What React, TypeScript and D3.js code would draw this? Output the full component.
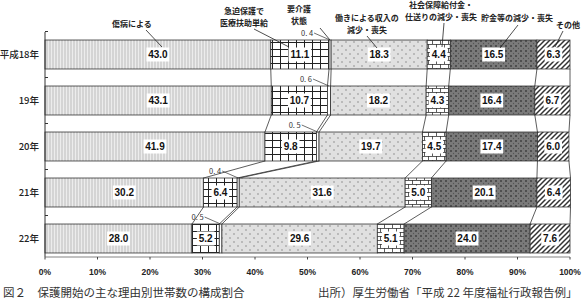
import React from "react";
import * as d3 from "d3";

const years = ["平成18年", "19年", "20年", "21年", "22年"];
const reasonKeys = ["shobyo", "kyuhaku", "kaigo", "hataraki", "shakai", "chokin", "sonota"];
const reasonLabels = [
  ["傷病による"],
  ["急迫保護で", "医療扶助単給"],
  ["要介護", "状態"],
  ["働きによる収入の", "減少・喪失"],
  ["社会保障給付金・", "仕送りの減少・喪失"],
  ["貯金等の減少・喪失"],
  ["その他"],
];
const shobyo = [43.0, 43.1, 41.9, 30.2, 28.0];
const kyuhaku = [11.1, 10.7, 9.8, 6.4, 5.2];
const kaigo = [0.4, 0.6, 0.5, 0.4, 0.5];
const hataraki = [18.3, 18.2, 19.7, 31.6, 29.6];
const shakai = [4.4, 4.3, 4.5, 5.0, 5.1];
const chokin = [16.5, 16.4, 17.4, 20.1, 24.0];
const sonota = [6.3, 6.7, 6.0, 6.4, 7.6];
const tickValues = [0, 10, 20, 30, 40, 50, 60, 70, 80, 90, 100];
const tickLabels = ["0%", "10%", "20%", "30%", "40%", "50%", "60%", "70%", "80%", "90%", "100%"];
const captionTitle = "図２　保護開始の主な理由別世帯数の構成割合";
const captionSource = "出所）厚生労働省「平成 22 年度福祉行政報告例」";

const W = 583;
const H = 299;

const series: Record<string, number[]> = { shobyo, kyuhaku, kaigo, hataraki, shakai, chokin, sonota };
const rows = years.map((y, i) => {
  const r: any = { year: y };
  reasonKeys.forEach((k) => (r[k] = series[k][i]));
  return r;
});
const stacked = d3.stack().keys(reasonKeys)(rows);

const x = d3.scaleLinear().domain([0, 100]).range([45, 570]);
const y = d3.scaleBand().domain(years).range([31.5, 261.5]).paddingInner(0.37).paddingOuter(0.185);
const axisY = 257;

const fills = ["url(#pShobyo)", "url(#pKyuhaku)", "#ffffff", "url(#pHataraki)", "url(#pShakai)", "url(#pChokin)", "url(#pSonota)"];

// top annotation layout (text center x, first line baseline y, leader from, leader to)
const annot = [
  { cx: 132, y0: 27, lf: [146, 30], lt: [162, 47] },
  { cx: 244, y0: 14, lf: [254, 29], lt: [289, 47] },
  { cx: 299, y0: 12, lf: [320, 28], lt: [330, 40] },
  { cx: 367, y0: 21, lf: [367, 36], lt: [377, 48] },
  { cx: 441, y0: 8, lf: [444, 23], lt: [442, 47] },
  { cx: 517, y0: 21, lf: [518, 25], lt: [500, 48] },
  { cx: 568, y0: 28, lf: [563, 31], lt: [555, 47] },
];

export default function App() {
  const bw = y.bandwidth();
  const connectors: JSX.Element[] = [];
  for (let i = 0; i < years.length - 1; i++) {
    const b0 = (y(years[i]) as number) + bw;
    const t1 = y(years[i + 1]) as number;
    stacked.forEach((s, k) => {
      connectors.push(
        <line key={`c${i}-${k}`} x1={x(s[i][1])} y1={b0} x2={x(s[i + 1][1])} y2={t1} stroke="#333" strokeWidth={0.8} />
      );
    });
  }
  return (
    <svg width={W} height={H} style={{ position: "absolute", left: 0, top: 0, background: "#fff" }}>
      <defs>
        <pattern id="pShobyo" width={3} height={10} patternUnits="userSpaceOnUse">
          <rect width={3} height={10} fill="#d4d4d4" />
          <line x1={0.5} y1={0} x2={0.5} y2={10} stroke="#ececec" strokeWidth={1} />
        </pattern>
        <pattern id="pKyuhaku" width={8} height={7} patternUnits="userSpaceOnUse">
          <rect width={8} height={7} fill="#fff" />
          <path d="M0 0.5 H8 M0.5 0 V7" stroke="#222" strokeWidth={1} />
        </pattern>
        <pattern id="pHataraki" width={8} height={8} patternUnits="userSpaceOnUse">
          <rect width={8} height={8} fill="#e0e0e0" />
          <circle cx={2} cy={2} r={0.7} fill="#777" />
          <circle cx={6} cy={6} r={0.7} fill="#777" />
        </pattern>
        <pattern id="pShakai" width={8} height={8} patternUnits="userSpaceOnUse">
          <rect width={8} height={8} fill="#fff" />
          <path d="M0 0.5 H8 M0 4.5 H8 M0.5 0 V4 M4.5 4 V8" stroke="#333" strokeWidth={0.8} />
        </pattern>
        <pattern id="pChokin" width={5} height={5} patternUnits="userSpaceOnUse">
          <rect width={5} height={5} fill="#7a7a7a" />
          <circle cx={1} cy={1} r={0.9} fill="#3a3a3a" />
          <circle cx={3.5} cy={3.5} r={0.7} fill="#555" />
        </pattern>
        <pattern id="pSonota" width={5} height={5} patternUnits="userSpaceOnUse">
          <rect width={5} height={5} fill="#fff" />
          <path d="M-1 1 L1 -1 M0 5 L5 0 M4 6 L6 4" stroke="#333" strokeWidth={1.5} />
        </pattern>
      </defs>

      {/* bars */}
      {stacked.map((s, k) =>
        s.map((d, i) => (
          <rect
            key={`b${k}-${i}`}
            x={x(d[0])}
            y={y(years[i])}
            width={x(d[1]) - x(d[0])}
            height={bw}
            fill={fills[k]}
            stroke="#333"
            strokeWidth={0.8}
          />
        ))
      )}

      {connectors}

      {/* value labels */}
      {stacked.map((s, k) =>
        k === 2
          ? null
          : s.map((d, i) => {
              const v = series[reasonKeys[k]][i];
              const t = v.toFixed(1);
              const cx = (x(d[0]) + x(d[1])) / 2;
              const cy = (y(years[i]) as number) + bw / 2;
              const tw = t.length * 5.2 + 2;
              return (
                <g key={`l${k}-${i}`}>
                  <rect x={cx - tw / 2} y={cy - 7} width={tw} height={14} fill="#fff" />
                  <text x={cx} y={cy + 3.6} textAnchor="middle" fontFamily="Liberation Sans, Arial, sans-serif" fontWeight="bold" fontSize={10} fill="#111">
                    {t}
                  </text>
                </g>
              );
            })
      )}

      {/* small segment labels */}
      {stacked[2].map((d, i) => {
        const ax = (x(d[0]) + x(d[1])) / 2;
        const ay = y(years[i]) as number;
        const lx = ax - 16;
        const ly = ay - 7;
        return (
          <g key={`s${i}`}>
            <line x1={lx} y1={ly} x2={ax} y2={ay} stroke="#333" strokeWidth={0.7} />
            <text x={lx - 1} y={ly + 2.5} textAnchor="end" fontFamily="Noto Sans CJK JP, sans-serif" fontSize={7.5} fill="#333">
              {`0. ${String(series.kaigo[i].toFixed(1)).slice(2)}`}
            </text>
          </g>
        );
      })}

      {/* top annotations */}
      {annot.map((a, k) => (
        <g key={`a${k}`}>
          {reasonLabels[k].map((ln, j) => (
            <text key={j} x={a.cx} y={a.y0 + j * 11.5} textAnchor="middle" fontFamily="Noto Sans CJK JP, sans-serif" fontWeight={700} fontSize={8} fill="#222">
              {ln}
            </text>
          ))}
          <line x1={a.lf[0]} y1={a.lf[1]} x2={a.lt[0]} y2={a.lt[1]} stroke="#222" strokeWidth={0.8} />
        </g>
      ))}

      {/* axes */}
      <line x1={x(0)} y1={32} x2={x(0)} y2={axisY} stroke="#333" strokeWidth={1} />
      {[0, 1, 2, 3, 4, 5].map((i) => {
        const yy = 31.5 + i * y.step();
        return yy <= axisY ? <line key={`lt${i}`} x1={x(0)} x2={x(0) + 3} y1={yy} y2={yy} stroke="#333" strokeWidth={1} /> : null;
      })}
      <line x1={x(0)} y1={axisY} x2={x(100)} y2={axisY} stroke="#666" strokeWidth={0.8} />
      {tickValues.map((t, i) => (
        <g key={`t${i}`}>
          <line x1={x(t)} x2={x(t)} y1={axisY} y2={axisY + 2.5} stroke="#444" strokeWidth={1} />
          <text x={x(t)} y={axisY + 18} textAnchor="middle" fontFamily="Liberation Sans, Arial, sans-serif" fontWeight="bold" fontSize={8.5} fill="#222">
            {tickLabels[i]}
          </text>
        </g>
      ))}

      {/* row labels */}
      {years.map((yr) => (
        <text key={yr} x={39} y={(y(yr) as number) + bw / 2 + 3.5} textAnchor="end" fontFamily="Noto Sans CJK JP, sans-serif" fontWeight={500} fontSize={9.5} fill="#222">
          {yr}
        </text>
      ))}

      {/* captions */}
      <text x={3} y={297} fontFamily="Noto Sans CJK JP, sans-serif" fontSize={11.5} fill="#333">
        {captionTitle}
      </text>
      <text x={318} y={297} fontFamily="Noto Sans CJK JP, sans-serif" fontSize={11.5} fill="#333">
        {captionSource}
      </text>
    </svg>
  );
}
